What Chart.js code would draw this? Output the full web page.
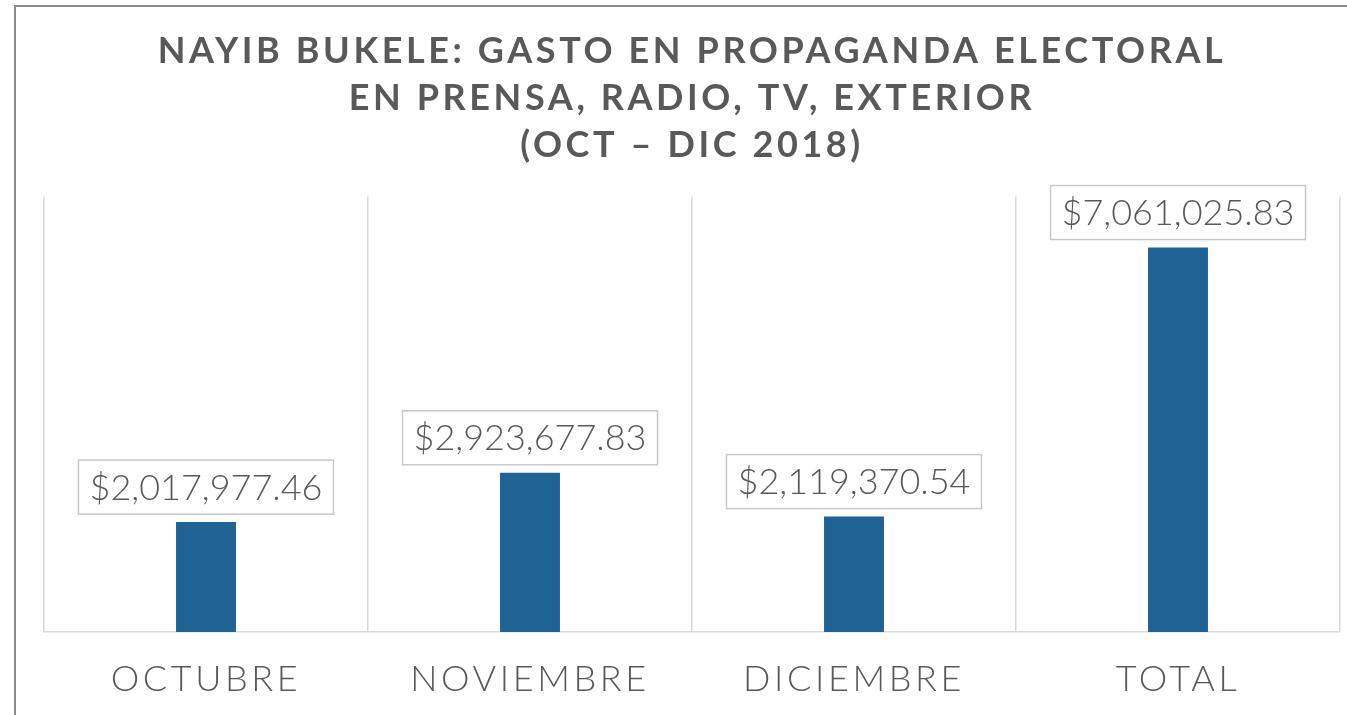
<!DOCTYPE html>
<html lang="es">
<head>
    <meta charset="UTF-8">
    <title>Gasto en propaganda electoral</title>
    <script src="https://cdn.jsdelivr.net/npm/chart.js"></script>
    <style>
        html, body { margin: 0; padding: 0; background: #fff; }
        #wrap { width: 1347px; height: 715px; position: relative; }
    </style>
</head>
<body>
    <div id="wrap">
        <canvas id="chartGasto" width="1347" height="715"></canvas>
    </div>
<script>
    const meses = ['OCTUBRE', 'NOVIEMBRE', 'DICIEMBRE', 'TOTAL']
    const gasto = [2017977.46, 2923677.83, 2119370.54, 7061025.83]
    const etiquetas = ['$2,017,977.46', '$2,923,677.83', '$2,119,370.54', '$7,061,025.83']
    const titulo = [
        'NAYIB BUKELE: GASTO EN PROPAGANDA ELECTORAL',
        'EN PRENSA, RADIO, TV, EXTERIOR',
        '(OCT – DIC 2018)'
    ]

    const cinza = '#595959'

    // borda externa + espaçamento das letras
    const moldura = {
        id: 'moldura',
        beforeDraw(chart) {
            const c = chart.ctx
            c.save()
            c.strokeStyle = '#8c8c8c'
            c.lineWidth = 2
            c.strokeRect(15, 6, 1400, 800)
            c.restore()
            c.letterSpacing = '3.6px'
        },
        beforeDatasetsDraw(chart) {
            chart.ctx.letterSpacing = '0px'
        }
    }

    // rótulos com caixa acima das barras
    const rotulos = {
        id: 'rotulos',
        afterDatasetsDraw(chart) {
            const c = chart.ctx
            const barras = chart.getDatasetMeta(0).data
            c.save()
            c.letterSpacing = '0px'
            c.font = '300 36px Lato'
            c.textAlign = 'center'
            c.textBaseline = 'middle'
            for (let i = 0; i < barras.length; i++) {
                const b = barras[i]
                const txt = etiquetas[i]
                const w = c.measureText(txt).width + 22
                const h = 54
                const base = b.y - 8
                c.fillStyle = '#fff'
                c.fillRect(b.x - w / 2, base - h, w, h)
                c.strokeStyle = '#c8c8c8'
                c.lineWidth = 1.5
                c.strokeRect(b.x - w / 2, base - h, w, h)
                c.fillStyle = cinza
                c.fillText(txt, b.x, base - h / 2 + 1)
            }
            c.restore()
        }
    }

    const ctx = document.getElementById('chartGasto')

    const grafico = new Chart(ctx, {
        type: 'bar',
        data: {
            labels: meses,
            datasets: [{
                data: gasto,
                backgroundColor: '#1f6294',
                borderWidth: 0,
                barPercentage: 0.185,
                categoryPercentage: 1
            }]
        },
        options: {
            responsive: false,
            animation: false,
            layout: {
                padding: { left: 44, right: 7, top: 28, bottom: 13 }
            },
            plugins: {
                legend: { display: false },
                tooltip: { enabled: false },
                title: {
                    display: true,
                    text: titulo,
                    color: cinza,
                    font: { family: 'Lato', size: 36, weight: 'bold', lineHeight: 1.3 },
                    padding: { top: 0, bottom: 28 }
                }
            },
            scales: {
                y: {
                    display: false,
                    min: 0,
                    max: 8000000
                },
                x: {
                    afterFit(scale) {
                        scale.height = 70
                    },
                    grid: {
                        color: '#d9d9d9',
                        lineWidth: 1.5,
                        drawTicks: false
                    },
                    border: { color: '#d9d9d9', width: 1.5 },
                    ticks: {
                        color: cinza,
                        padding: 26,
                        font: { family: 'Lato', size: 36, weight: '300' }
                    }
                }
            }
        },
        plugins: [moldura, rotulos]
    })
</script>
</body>
</html>
